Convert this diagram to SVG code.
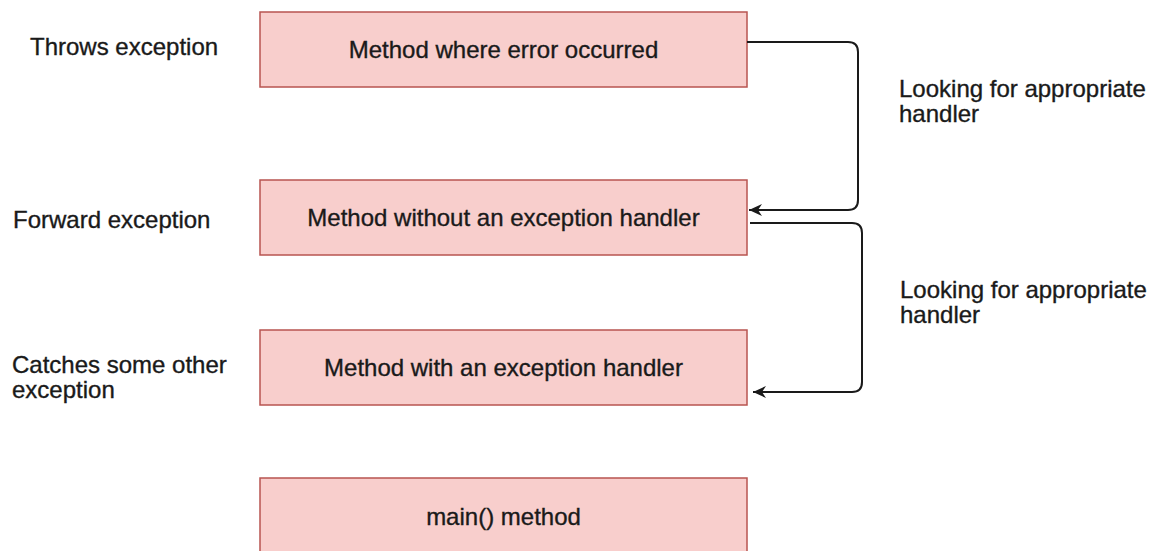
<svg xmlns="http://www.w3.org/2000/svg" width="1160" height="551" viewBox="0 0 1160 551">
  <style>
    .box { fill: #f8cecc; stroke: #b85450; stroke-width: 1.5; }
    .t { font-family: "Liberation Sans", Arial, sans-serif; font-size: 24px; fill: #1a1a1a; stroke: #1a1a1a; stroke-width: 0.35; }
    .c { text-anchor: middle; }
    .edge { fill: none; stroke: #1a1a1a; stroke-width: 2; }
  </style>
  <defs>
    <marker id="arr" markerUnits="userSpaceOnUse" markerWidth="14" markerHeight="12" refX="13" refY="6" orient="auto">
      <path d="M0,0 L13,6 L0,12 L4,6 Z" fill="#1a1a1a"/>
    </marker>
  </defs>

  <g id="node-error">
    <rect class="box" x="260" y="12" width="487" height="75"/>
    <text class="t c" x="503.5" y="58">Method where error occurred</text>
  </g>
  <g id="node-without">
    <rect class="box" x="260" y="180" width="487" height="75"/>
    <text class="t c" x="503.5" y="226">Method without an exception handler</text>
  </g>
  <g id="node-with">
    <rect class="box" x="260" y="330" width="487" height="75"/>
    <text class="t c" x="503.5" y="376">Method with an exception handler</text>
  </g>
  <g id="node-main">
    <rect class="box" x="260" y="478" width="487" height="80"/>
    <text class="t c" x="503.5" y="525">main() method</text>
  </g>

  <g id="label-throws">
    <text class="t" x="30" y="55">Throws exception</text>
  </g>
  <g id="label-forward">
    <text class="t" x="13" y="228">Forward exception</text>
  </g>
  <g id="label-catches">
    <text class="t" x="12" y="373">Catches some other</text>
    <text class="t" x="12" y="398">exception</text>
  </g>
  <g id="label-looking-1">
    <text class="t" x="899" y="97">Looking for appropriate</text>
    <text class="t" x="899" y="122">handler</text>
  </g>
  <g id="label-looking-2">
    <text class="t" x="900" y="298">Looking for appropriate</text>
    <text class="t" x="900" y="323">handler</text>
  </g>

  <g id="connectors">
    <path class="edge" marker-end="url(#arr)" d="M747,42 H848 Q858,42 858,52 V200 Q858,210 848,210 H749"/>
    <path class="edge" marker-end="url(#arr)" d="M750,223 H852 Q862,223 862,233 V382 Q862,392 852,392 H753"/>
  </g>
</svg>
